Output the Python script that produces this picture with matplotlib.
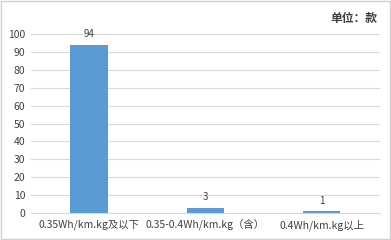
import matplotlib.pyplot as plt

plt.rcParams['font.family'] = ['Noto Sans CJK SC', 'DejaVu Sans']

categories = ['0.35Wh/km.kg及以下', '0.35-0.4Wh/km.kg（含）', '0.4Wh/km.kg以上']
counts = [94, 3, 1]
yticks = [0, 10, 20, 30, 40, 50, 60, 70, 80, 90, 100]

fig = plt.figure(figsize=(3.91, 2.4), dpi=100)
ax = fig.add_axes([0.079, 0.1125, 0.893, 0.7455])

x = range(len(categories))
bars = ax.bar(x, counts, width=0.32, color='#5B9BD5', zorder=3)
for xi, v in zip(x, counts):
    ax.text(xi, v + 3, str(v), ha='center', va='bottom', fontsize=7, color='#404040')

ax.set_xlim(-0.5, 2.5)
ax.set_ylim(0, 100)
ax.set_yticks(yticks)
ax.set_xticks(list(x))
ax.set_xticklabels(categories, fontsize=7.5, color='#404040', fontweight='medium')
ax.tick_params(axis='y', labelsize=7.5, labelcolor='#404040', length=0, pad=4)
ax.tick_params(axis='x', length=0, pad=5)
for lbl in ax.get_yticklabels():
    lbl.set_fontweight('medium')
ax.grid(axis='y', color='#D9D9D9', linewidth=0.8, zorder=0)
for s in ['top', 'right', 'left']:
    ax.spines[s].set_visible(False)
ax.spines['bottom'].set_color('#D9D9D9')

fig.text(0.965, 0.925, '单位：款', ha='right', va='center', fontsize=8.5, color='#404040',
         fontweight='bold')

# light frame around the whole picture
fig.patches.append(plt.Rectangle((0.002, 0.003), 0.995, 0.993, transform=fig.transFigure,
                                 fill=False, edgecolor='#D0D0D0', linewidth=1))

fig.savefig('out.png', dpi=100)
